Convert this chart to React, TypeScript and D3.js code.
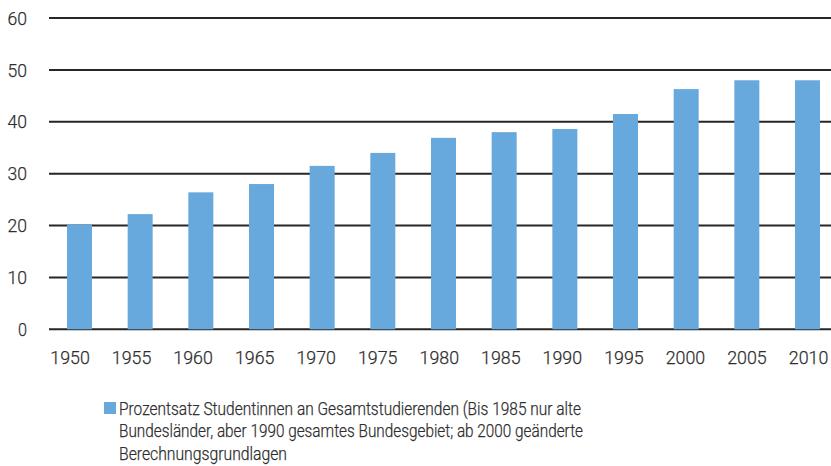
import React from "react";
import * as d3 from "d3";

// Share of women among all students (percent)
const years = ["1950", "1955", "1960", "1965", "1970", "1975", "1980", "1985", "1990", "1995", "2000", "2005", "2010"];
const shares = [20.2, 22.2, 26.4, 28.0, 31.5, 34.0, 36.9, 38.0, 38.6, 41.5, 46.3, 48.0, 48.0];
const yTicks = [0, 10, 20, 30, 40, 50, 60];
const legendLines = [
  "Prozentsatz Studentinnen an Gesamtstudierenden (Bis 1985 nur alte",
  "Bundesländer, aber 1990 gesamtes Bundesgebiet; ab 2000 geänderte",
  "Berechnungsgrundlagen",
];

const W = 831;
const H = 466;
const FONT = "Roboto, 'DejaVu Sans', sans-serif";
const TEXT = "#2e2e2e";
const BAR = "#68a9dd";

export default function App() {
  const gridLeft = 49;
  const gridRight = 831;

  const y = d3.scaleLinear().domain([0, 60]).range([329.3, 18]);
  const x = d3.scaleBand<string>().domain(years).range([67, 820]).paddingInner(0.588).paddingOuter(0);
  const xLabel = d3.scalePoint<string>().domain(years).range([70, 808.5]);

  const legendWidths = [462, 464, 168];

  return (
    <svg
      width={W}
      height={H}
      viewBox={`0 0 ${W} ${H}`}
      style={{ position: "absolute", left: 0, top: 0, background: "#fff" }}
      fontFamily={FONT}
      fontWeight={300}
    >
      {/* horizontal grid */}
      {yTicks.map((t) => (
        <line
          key={`g${t}`}
          x1={gridLeft}
          x2={gridRight}
          y1={y(t)}
          y2={y(t)}
          stroke="#262626"
          strokeWidth={2}
        />
      ))}
      {/* y tick labels */}
      {yTicks.map((t) => (
        <text
          key={`yl${t}`}
          x={27}
          y={y(t)}
          dy="0.36em"
          textAnchor="end"
          fontSize={18.5}
          fill={TEXT}
          stroke={TEXT}
          strokeWidth={0.25}
          textLength={t === 0 ? 9 : 19.5}
          lengthAdjust="spacingAndGlyphs"
        >
          {t}
        </text>
      ))}
      {/* bars */}
      {years.map((yr, i) => (
        <rect
          key={`b${yr}`}
          x={x(yr)}
          y={y(shares[i])}
          width={x.bandwidth()}
          height={y(0) - y(shares[i])}
          fill={BAR}
        />
      ))}
      {/* x labels */}
      {years.map((yr) => (
        <text
          key={`xl${yr}`}
          x={xLabel(yr)}
          y={364.3}
          textAnchor="middle"
          fontSize={18.5}
          fill={TEXT}
          stroke={TEXT}
          strokeWidth={0.25}
          textLength={39.5}
          lengthAdjust="spacingAndGlyphs"
        >
          {yr}
        </text>
      ))}
      {/* legend */}
      <rect x={104} y={402} width={12} height={12} fill={BAR} />
      {legendLines.map((line, i) => (
        <text
          key={`lg${i}`}
          x={119}
          y={414.8 + i * 22.6}
          fontSize={18.5}
          fill={TEXT}
          stroke={TEXT}
          strokeWidth={0.25}
          textLength={legendWidths[i]}
          lengthAdjust="spacingAndGlyphs"
        >
          {line}
        </text>
      ))}
    </svg>
  );
}
